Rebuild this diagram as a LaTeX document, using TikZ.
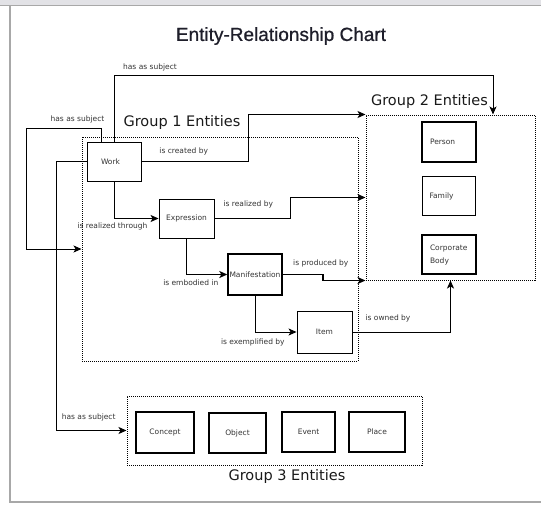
\documentclass[tikz,border=0pt]{standalone}
\usepackage{fontspec}
\setmainfont{DejaVu Sans}
\newfontfamily\titlefont[FakeBold=0.8]{Liberation Sans}
\usetikzlibrary{arrows.meta}
\definecolor{framegray}{HTML}{E2E2E6}
\definecolor{frameline}{HTML}{A8A8A8}
\definecolor{titlecol}{HTML}{1E1E2A}
\definecolor{txt}{HTML}{333333}
\begin{document}
\begin{tikzpicture}[x=1pt,y=-1pt,
  ent/.style={draw, line width=0.9pt, inner sep=0pt, text=txt, font=\fontsize{7.5}{13}\selectfont},
  heavy/.style={line width=1.4pt},
  grp/.style={draw, line width=1pt, dash pattern=on 1pt off 1pt, inner sep=0pt},
  grplbl/.style={font=\fontsize{14.5}{17}\selectfont, text=black!90, inner sep=0pt},
  lbl/.style={font=\fontsize{7.5}{9}\selectfont, text=txt, inner sep=0pt},
  conn/.style={draw, line width=1pt, -{Stealth[length=8pt,width=7pt,inset=2pt]}},
  thickline/.style={line width=1.6pt}
]
\useasboundingbox (0,0) rectangle (541,506);
% frame
\fill[framegray] (0,0) rectangle (541,5);
\draw[frameline, line width=0.6pt] (0,5) -- (541,5);
\draw[frameline, line width=1.5pt] (10,5) -- (10,502) -- (541,502);

% title
\node[font=\titlefont\fontsize{19}{22}\selectfont, text=titlecol, inner sep=0pt] (title) at (281,36) {Entity-Relationship Chart};

% groups
\node[grp, minimum width=276pt, minimum height=224pt] (g1) at (220,249) {};
\node[grp, minimum width=169pt, minimum height=165pt] (g2) at (450.5,197.5) {};
\node[grp, minimum width=295pt, minimum height=69pt] (g3) at (274.5,430.5) {};
\node[grplbl] (g1lbl) at (182,122) {Group 1 Entities};
\node[grplbl] (g2lbl) at (429.5,101) {Group 2 Entities};
\node[grplbl] (g3lbl) at (287,476) {Group 3 Entities};

% group 1 entities
\node[ent, minimum width=54pt, minimum height=39pt, text width=26pt, align=left] (work) at (114,161.5) {Work};
\node[ent, minimum width=55pt, minimum height=39pt] (expression) at (186.5,218.5) {Expression};
\node[ent, heavy, minimum width=54pt, minimum height=41pt] (manifestation) at (255,274.5) {Manifestation};
\node[ent, minimum width=55pt, minimum height=42pt] (item) at (324.5,332) {Item};

% group 2 entities
\node[ent, heavy, minimum width=54pt, minimum height=40pt, text width=38pt, align=left] (person) at (449,142) {Person};
\node[ent, minimum width=53pt, minimum height=39pt, text width=38pt, align=left] (family) at (448.5,196) {Family\\[4pt]};
\node[ent, heavy, minimum width=54pt, minimum height=39pt, text width=38pt, align=left] (corporate) at (449,254.5) {Corporate\\Body};

% group 3 entities
\node[ent, heavy, minimum width=58pt, minimum height=41pt] (concept) at (165,432.5) {Concept};
\node[ent, line width=1.2pt, minimum width=57pt, minimum height=40pt] (object) at (237.5,433) {Object};
\node[ent, line width=1.2pt, minimum width=53pt, minimum height=40pt] (event) at (308.5,432) {Event};
\node[ent, line width=1.2pt, minimum width=56pt, minimum height=40pt] (place) at (377,432) {Place};

% connectors
\coordinate (tr) at (493,75.5);
\draw[conn] (work.north) |- (tr) -- (tr |- g2.north);
\node[lbl] (l-top) at (150,67) {has as subject};

\coordinate (lt) at (26,128);
\draw[conn] ([xshift=-13pt]work.north) |- (lt) |- (g1.west);
\node[lbl] (l-left) at (77.5,119) {has as subject};

\coordinate (lb) at (56,430.5);
\draw[conn] (work.west) -| (lb) -- (g3.west);
\node[lbl] (l-bottom) at (88.7,417.7) {has as subject};

\coordinate (cb) at (248,0);
\draw[conn] (work.east) -| (cb |- g2.north west) -- (g2.north west);
\node[lbl] (l-created) at (183.7,151) {is created by};

\draw[conn] (work.south) |- (expression.west);
\node[lbl] (l-through) at (112.5,226) {is realized through};

\coordinate (rb) at (290.5,0);
\draw[conn, thickline] (expression.east) -| (rb |- g2.west) -- (g2.west);
\node[lbl] (l-realized) at (248.3,204.3) {is realized by};

\draw[conn, thickline] (expression.south) |- (manifestation.west);
\node[lbl] (l-embodied) at (190.8,282.7) {is embodied in};

\coordinate (pb) at (323,0);
\draw[conn, thickline] (manifestation.east) -| (pb |- g2.south west) -- (g2.south west);
\node[lbl] (l-produced) at (320.8,263.3) {is produced by};

\draw[conn] (manifestation.south) |- (item.west);
\node[lbl] (l-exemplified) at (252.8,342.3) {is exemplified by};

\draw[conn] (item.east) -| (g2.south);
\node[lbl] (l-owned) at (388,318.3) {is owned by};
\end{tikzpicture}
\end{document}
